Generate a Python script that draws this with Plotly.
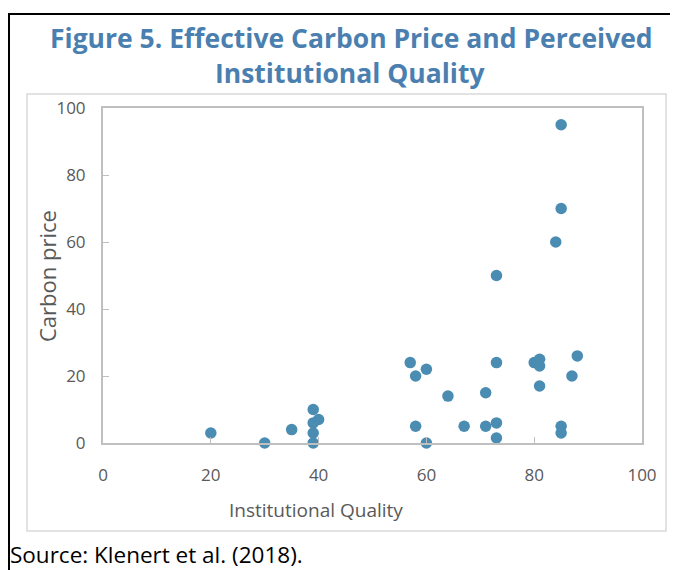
import plotly.graph_objects as go

# Data
institutional_quality = [20, 30, 35, 39, 39, 40, 39, 39,
                         57, 58, 60, 58, 60, 64, 67, 71, 71,
                         73, 73, 73, 73, 70.5,
                         80, 80.5, 81, 81, 81, 84, 85, 85, 85, 85, 87, 88]
carbon_price = [3, 0, 4, 10, 6, 7, 3, 0,
                24, 20, 22, 5, 0, 14, 5, 15, 5,
                50, 24, 6, 1.5, 105.8,
                24, 24, 25, 23, 17, 60, 95, 70, 5, 3, 20, 26]

x_ticks = [0, 20, 40, 60, 80, 100]
y_ticks = [0, 20, 40, 60, 80, 100]

title_lines = ["Figure 5. Effective Carbon Price and Perceived", "Institutional Quality"]
x_title = "Institutional Quality"
y_title = "Carbon price"
source = "Source: Klenert et al. (2018)."

OFF = 8  # page body margin offset
W, H = 678 - OFF, 570 - OFF
L, R, T, B = 103 - OFF, 642 - OFF, 108 - OFF, 443 - OFF
PW, PH = R - L, B - T


def px(x):
    return (x - OFF - L) / PW


def py(y):
    return (B - (y - OFF)) / PH


fig = go.Figure()
fig.add_trace(go.Scatter(
    x=institutional_quality, y=carbon_price, mode="markers",
    marker=dict(size=11.5, color="#4a8cb2", line=dict(width=0)),
    cliponaxis=False, hoverinfo="x+y", showlegend=False,
))

axis_common = dict(
    range=[0, 100], showgrid=False, zeroline=False,
    showline=True, linecolor="#bfbfbf", linewidth=2, mirror=True,
    ticks="inside", ticklen=6, tickcolor="#bfbfbf", tickwidth=1,
    tickfont=dict(family="Open Sans", size=17, color="#595959"),
)
fig.update_xaxes(**axis_common, tickvals=x_ticks, ticklabelstandoff=16)
fig.update_yaxes(**axis_common, tickvals=y_ticks, ticklabelstandoff=12)

shapes = [
    # white mask above inner box (hides the part of the off-scale point)
    dict(type="rect", xref="paper", yref="paper", x0=px(10), x1=px(676), y0=py(16), y1=py(92.5),
         fillcolor="white", line=dict(width=0), layer="above"),
    # inner light grey frame
    dict(type="rect", xref="paper", yref="paper", x0=px(27), x1=px(666), y0=py(94), y1=py(531),
         line=dict(color="#d9d9d9", width=1.5), fillcolor="rgba(0,0,0,0)", layer="above"),
    # outer black frame
    dict(type="rect", xref="paper", yref="paper", x0=px(9), x1=px(720), y0=py(14), y1=py(720),
         line=dict(color="black", width=2), fillcolor="rgba(0,0,0,0)", layer="above"),
]

annotations = [
    dict(text=title_lines[0], x=px(351), y=py(38), xref="paper", yref="paper", showarrow=False,
         xanchor="center", yanchor="middle",
         font=dict(family="Open Sans", size=26.5, color="#4a7fb0", weight="bold")),
    dict(text=title_lines[1], x=px(350), y=py(73), xref="paper", yref="paper", showarrow=False,
         xanchor="center", yanchor="middle",
         font=dict(family="Open Sans", size=26.5, color="#4a7fb0", weight="bold")),
    dict(text=x_title, x=px(316), y=py(510), xref="paper", yref="paper", showarrow=False,
         xanchor="center", yanchor="middle",
         font=dict(family="Open Sans", size=19, color="#595959")),
    dict(text=y_title, x=px(47), y=py(276), xref="paper", yref="paper", showarrow=False,
         xanchor="center", yanchor="middle", textangle=-90,
         font=dict(family="Open Sans", size=22, color="#595959")),
    dict(text=source, x=px(8), y=py(554), xref="paper", yref="paper", showarrow=False,
         xanchor="left", yanchor="middle",
         font=dict(family="Open Sans", size=22.5, color="black")),
]

fig.update_layout(
    width=W, height=H,
    margin=dict(l=L, r=W - R, t=T, b=H - B, pad=0),
    paper_bgcolor="white", plot_bgcolor="white",
    shapes=shapes, annotations=annotations,
)

fig.write_html("out.html")
